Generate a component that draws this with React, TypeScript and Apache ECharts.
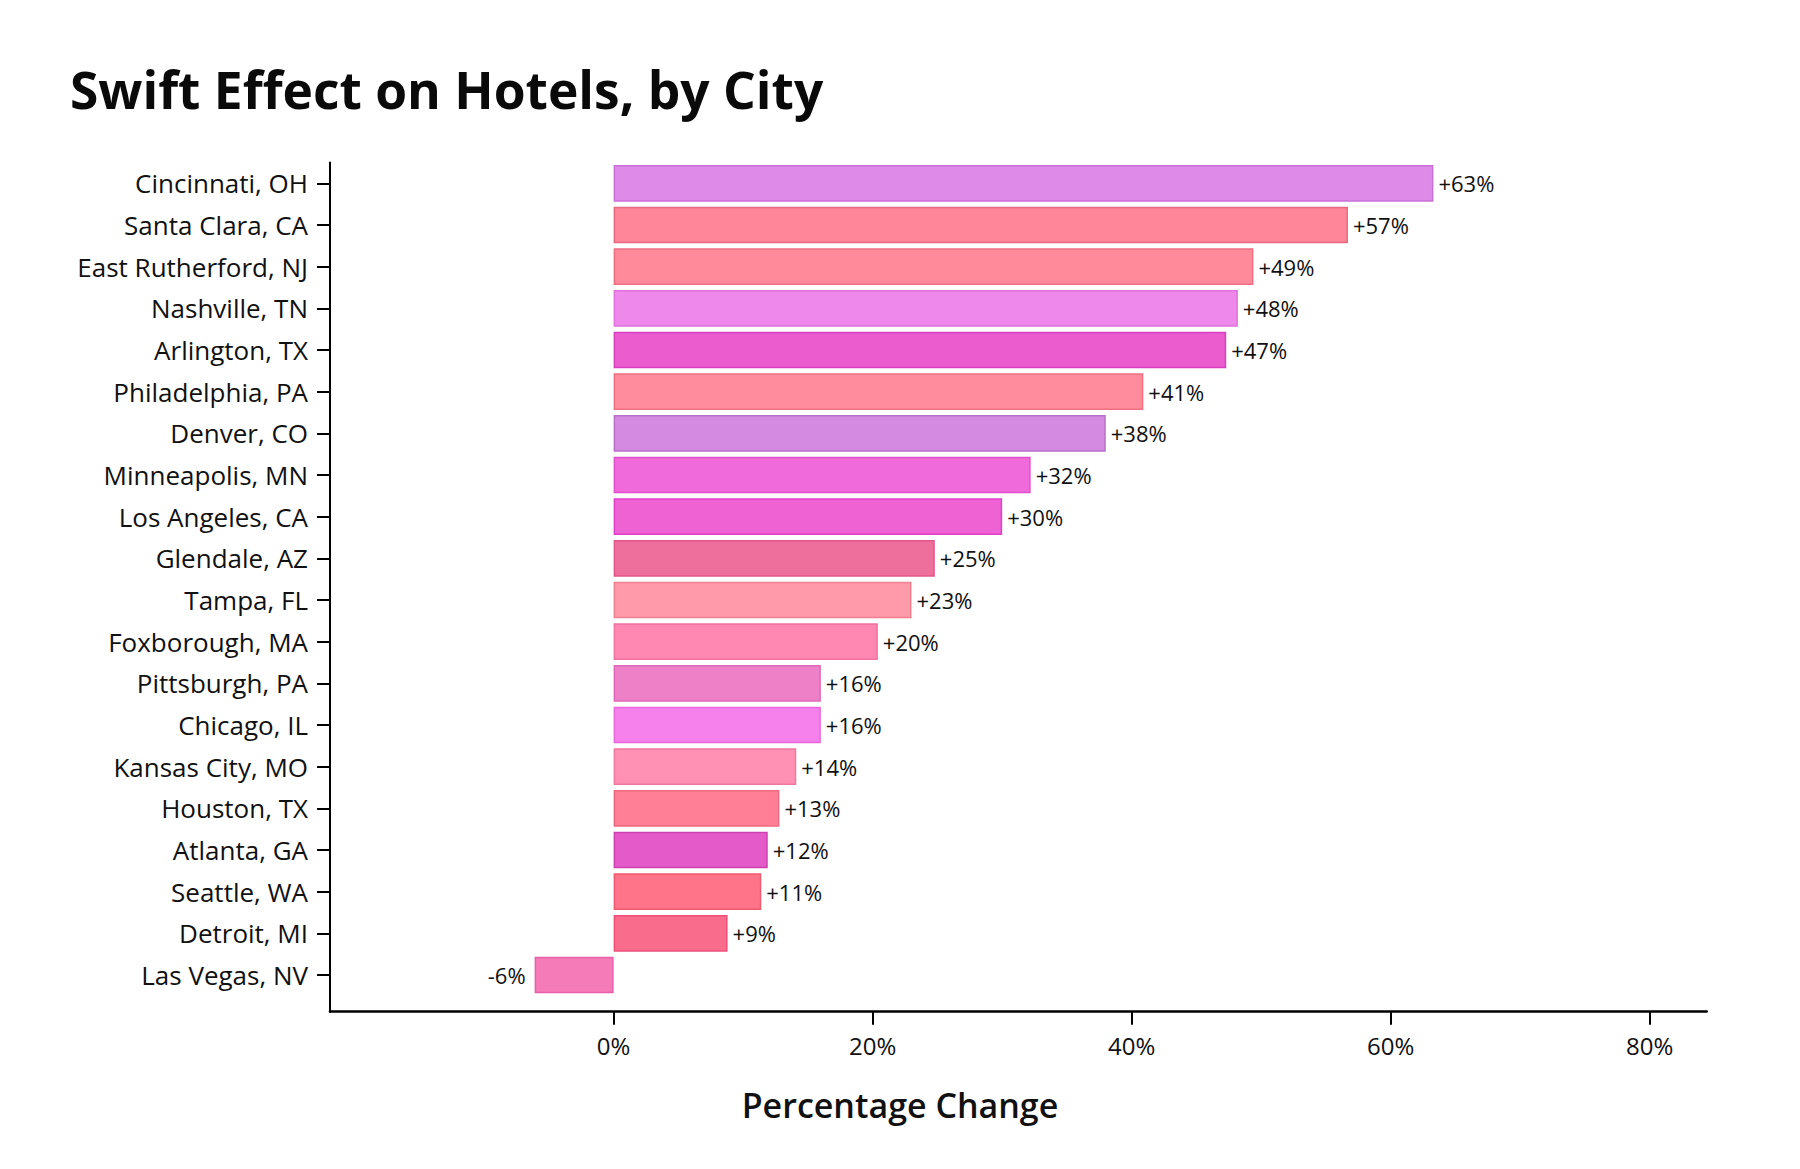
import React, { useEffect, useRef } from "react";
import * as echarts from "echarts";

const cities = [
  "Cincinnati, OH", "Santa Clara, CA", "East Rutherford, NJ", "Nashville, TN", "Arlington, TX",
  "Philadelphia, PA", "Denver, CO", "Minneapolis, MN", "Los Angeles, CA", "Glendale, AZ",
  "Tampa, FL", "Foxborough, MA", "Pittsburgh, PA", "Chicago, IL", "Kansas City, MO",
  "Houston, TX", "Atlanta, GA", "Seattle, WA", "Detroit, MI", "Las Vegas, NV",
];
const changes = [63.3, 56.7, 49.4, 48.2, 47.3, 40.9, 38.0, 32.2, 30.0, 24.8, 23.0, 20.4, 16.0, 16.0, 14.1, 12.8, 11.9, 11.4, 8.8, -6.1];
const fills = [
  "#DD8AE8", "#FF8599", "#FF8A9A", "#EE88EA", "#EB5CCF", "#FF8C9C", "#D48AE0", "#F06ADC", "#EE62D4", "#EE6E9C",
  "#FF9AAA", "#FF88B2", "#EE80C8", "#F680EC", "#FF92B4", "#FF8096", "#E45AC9", "#FF7488", "#F96C8C", "#F47AB8",
];
const borders = [
  "#C970D6", "#E86A80", "#F06E82", "#E070DC", "#D840BE", "#F07080", "#B870C8", "#E050CC", "#E040C8", "#E05888",
  "#F08090", "#F070A0", "#E068B8", "#E868DC", "#F078A0", "#F06880", "#CC40B0", "#F05A70", "#F05078", "#E860A8",
];
const tickValues = [0, 20, 40, 60, 80];
const xMin = -21.9;
const xMax = 84.4;

const FONT = "'Open Sans', Lato, 'DejaVu Sans', sans-serif";

export default function App() {
  const ref = useRef<HTMLDivElement>(null);
  useEffect(() => {
    document.body.style.margin = "0";
    const chart = echarts.init(ref.current!, null, { renderer: "svg" });
    const data = changes.map((v, i) => ({
      value: v,
      itemStyle: { color: fills[i], borderColor: borders[i], borderWidth: 1.5 },
      label: v < 0 ? { position: "left", distance: 9 } : undefined,
    }));
    chart.setOption({
      animation: false,
      backgroundColor: "#ffffff",
      textStyle: { fontFamily: FONT },
      title: [
        {
          text: "Swift Effect on Hotels, by City",
          left: 65,
          top: 58,
          textStyle: { fontFamily: FONT, fontSize: 51.5, fontWeight: "bold", color: "#0a0a0a" },
        },
        {
          text: "Percentage Change",
          left: "center",
          top: 1083,
          textStyle: { fontFamily: FONT, fontSize: 34, fontWeight: 600, color: "#111111" },
        },
      ],
      grid: [
        { left: 330, right: 93.3, top: 162.5, bottom: 173.2 },
        { left: 330, right: 93.3, top: 162.5, bottom: 157.3 },
      ],
      xAxis: [
        { type: "value", gridIndex: 0, min: xMin, max: xMax, show: false, splitLine: { show: false } },
        {
          type: "value",
          gridIndex: 1,
          min: xMin,
          max: xMax,
          axisLine: { show: true, onZero: false, lineStyle: { color: "#000", width: 2.6 } },
          axisTick: { show: true, customValues: tickValues, length: 13, lineStyle: { color: "#000", width: 2 } },
          axisLabel: {
            customValues: tickValues,
            formatter: (v: number) => `${v}%`,
            fontSize: 24,
            color: "#111",
            margin: 22,
            fontFamily: FONT,
          },
          splitLine: { show: false },
        },
      ],
      yAxis: [
        {
          type: "category",
          gridIndex: 0,
          inverse: true,
          data: cities,
          axisLine: { show: false, onZero: false },
          axisTick: { show: true, alignWithLabel: true, length: 13, lineStyle: { color: "#000", width: 2 } },
          axisLabel: { fontSize: 26, color: "#111", margin: 22, fontFamily: FONT },
        },
        {
          type: "value",
          gridIndex: 1,
          axisLine: { show: true, onZero: false, lineStyle: { color: "#000", width: 2 } },
          axisTick: { show: false },
          axisLabel: { show: false },
          splitLine: { show: false },
        },
      ],
      series: [
        {
          type: "bar",
          xAxisIndex: 0,
          yAxisIndex: 0,
          data,
          barWidth: "88%",
          label: {
            show: true,
            position: "right",
            distance: 5,
            fontSize: 22,
            color: "#111",
            fontFamily: FONT,
            formatter: (p: any) => {
              const r = Math.round(p.value);
              return r < 0 ? `-${Math.abs(r)}%` : `+${r}%`;
            },
          },
        },
      ],
    });
    return () => chart.dispose();
  }, []);
  return <div ref={ref} style={{ width: 1800, height: 1169 }} />;
}
